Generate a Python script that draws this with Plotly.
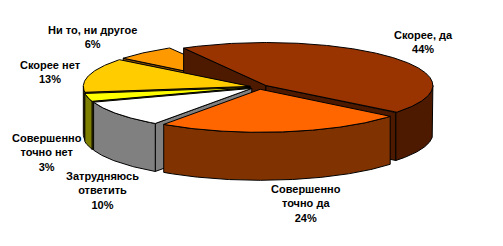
import numpy as np
import plotly.graph_objects as go

# ---- data ----
categories = ["Скорее, да", "Совершенно точно да", "Затрудняюсь ответить",
              "Совершенно точно нет", "Скорее нет", "Ни то, ни другое"]
values = [44, 24, 10, 3, 13, 6]
label_lines = ["Скорее, да", "Совершенно<br>точно да", "Затрудняюсь<br>ответить",
               "Совершенно<br>точно нет", "Скорее нет", "Ни то, ни другое"]

# ---- styles ----
top_colors = ["#993300", "#FF6600", "#FFFFFF", "#FFFF00", "#FFCC00", "#FF9900"]
side_colors = ["#4D1A00", "#803300", "#808080", "#808000", "#806600", "#804C00"]

W, H = 503, 246
CX, CY = 259, 87
RX, RY = 167, 43
DEPTH = 48
EXPLODE = 9
START = 119.5  # first slice starts here (math degrees), slices run clockwise
label_pos = [(423, 42), (306, 203), (102, 190), (47, 152), (50, 72), (92, 37)]


def proj(u, v, dz=0.0):
    return CX + RX * u, CY - RY * v + dz


def arc(cu, cv, a0, a1, n=None, dz=0.0):
    if n is None:
        n = max(3, int(abs(a1 - a0) * 2))
    t = np.radians(np.linspace(a0, a1, n))
    xs, ys = proj(cu + np.cos(t), cv + np.sin(t), dz)
    return list(xs), list(ys)


def poly_trace(xs, ys, fill):
    return go.Scatter(x=xs + [xs[0]], y=ys + [ys[0]], mode="lines", fill="toself",
                      fillcolor=fill, line=dict(color="black", width=1),
                      hoverinfo="skip", showlegend=False)


total = float(sum(values))
slices = []
cum = 0.0
for i, val in enumerate(values):
    span = val / total * 360.0
    a_start = START - cum
    a_end = a_start - span
    cum += span
    b = np.radians((a_start + a_end) / 2)
    e = EXPLODE / RX
    cu, cv = e * np.cos(b), e * np.sin(b)
    slices.append(dict(i=i, lo=a_end, hi=a_start, cu=cu, cv=cv, depth_key=np.sin(b)))

traces = []
for s in sorted(slices, key=lambda d: -d["depth_key"]):
    i, lo, hi, cu, cv = s["i"], s["lo"], s["hi"], s["cu"], s["cv"]
    tx, ty = proj(cu, cv)
    # radial walls
    for ang, vis in ((hi, np.cos(np.radians(hi)) < 0), (lo, np.cos(np.radians(lo)) > 0)):
        if vis:
            ex, ey = proj(cu + np.cos(np.radians(ang)), cv + np.sin(np.radians(ang)))
            traces.append(poly_trace([tx, ex, ex, tx], [ty, ey, ey + DEPTH, ty + DEPTH],
                                     side_colors[i]))
    # outer cylinder (front part)
    for k in range(-2, 3):
        f0, f1 = 180 + 360 * k, 360 + 360 * k
        a0, a1 = max(lo, f0), min(hi, f1)
        if a1 - a0 > 0.01:
            xs, ys = arc(cu, cv, a0, a1)
            xb, yb = arc(cu, cv, a1, a0, dz=DEPTH)
            traces.append(poly_trace(xs + xb, ys + yb, side_colors[i]))
    # top
    xs, ys = arc(cu, cv, lo, hi)
    traces.append(poly_trace([tx] + xs, [ty] + ys, top_colors[i]))

fig = go.Figure(traces)

for i, (lx, ly) in enumerate(label_pos):
    fig.add_annotation(x=lx, y=ly, xref="x", yref="y", showarrow=False,
                       text="<b>%s<br>%d%%</b>" % (label_lines[i], values[i]),
                       xanchor="center", yanchor="middle", align="center",
                       font=dict(family="Arial, Liberation Sans, sans-serif", size=11,
                                 color="black"))

fig.update_layout(
    width=W, height=H, margin=dict(l=0, r=0, t=0, b=0),
    paper_bgcolor="white", plot_bgcolor="white",
    xaxis=dict(range=[0, W], visible=False, fixedrange=True),
    yaxis=dict(range=[H, 0], visible=False, fixedrange=True),
    showlegend=False,
)
fig.write_html("out.html")
